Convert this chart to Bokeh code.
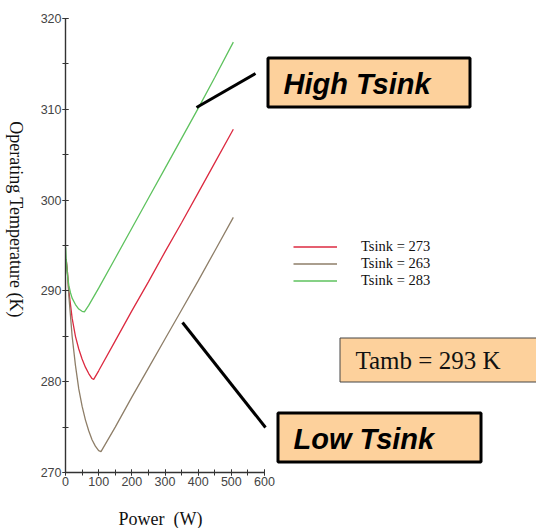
from bokeh.plotting import figure
from bokeh.models import (Range1d, SingleIntervalTicker, Label, BoxAnnotation,
                          Legend, LegendItem)
from bokeh.embed import file_html
from bokeh.resources import INLINE
import math

# ---------------- data ----------------
power_283 = [0.5, 2, 5, 10, 15, 20, 30, 40, 50, 57, 70, 100, 150, 200, 250, 300, 350, 400, 450, 506]
temp_283 = [294.8, 293.5, 292.0, 290.6, 289.8, 289.2, 288.5, 288.0, 287.75, 287.7, 288.4, 290.3, 293.6,
            296.9, 300.2, 303.5, 306.8, 310.1, 313.5, 317.4]

power_273 = [2, 6, 10, 20, 30, 40, 50, 60, 70, 80, 85, 100, 150, 200, 250, 300, 350, 400, 450, 506]
temp_273 = [293.5, 292.0, 290.0, 287.0, 285.0, 283.6, 282.5, 281.6, 280.9, 280.35, 280.25, 281.2, 284.5,
            287.8, 291.0, 294.3, 297.5, 300.8, 304.1, 307.8]

power_263 = [2, 6, 10, 20, 30, 40, 50, 60, 70, 80, 90, 100, 107, 150, 200, 250, 300, 350, 400, 450, 506]
temp_263 = [293.5, 292.0, 289.5, 285.0, 281.8, 279.2, 277.3, 275.8, 274.6, 273.6, 272.9, 272.4, 272.3,
            275.0, 278.3, 281.5, 284.7, 287.9, 291.1, 294.4, 298.1]

series_labels = ["Tsink = 273", "Tsink = 263", "Tsink = 283"]
x_title = "Power\u00a0\u00a0(W)"
y_title = "Operating Temperature (K)"

# ---------------- layout geometry ----------------
W, H = 536, 528
PX_PER_W = 199 / 600.0
PX_PER_K = 454 / 50.0


def X(px):  # picture pixel -> data x
    return (px - 65) / PX_PER_W


def Y(py):  # picture pixel -> data y
    return 270 + (472 - py) / PX_PER_K


p = figure(width=W, height=H, x_range=Range1d(X(0), X(W)), y_range=Range1d(Y(H), Y(0)),
           output_backend="svg", toolbar_location=None,
           min_border_left=0, min_border_right=0, min_border_top=0, min_border_bottom=0)
p.outline_line_color = None
p.grid.visible = False

p.xaxis.fixed_location = 270
p.yaxis.fixed_location = 0
for ax, interval, bounds in ((p.xaxis, 100, (0, 600)), (p.yaxis, 10, (270, 320))):
    ax.ticker = SingleIntervalTicker(interval=interval, num_minor_ticks=2)
    ax.bounds = bounds
    ax.axis_line_color = "#333333"
    ax.axis_line_width = 1.4
    ax.major_tick_line_color = "#333333"
    ax.minor_tick_line_color = "#333333"
    ax.major_tick_in = 3
    ax.major_tick_out = 3
    ax.minor_tick_in = 3
    ax.minor_tick_out = 3
    ax.major_label_text_font = "Liberation Sans"
    ax.major_label_text_font_size = "12.5px"
    ax.major_label_text_color = "#444444"
    ax.major_label_standoff = 1

r273 = p.line(power_273, temp_273, line_color="#DC2A40", line_width=1.3)
r263 = p.line(power_263, temp_263, line_color="#8E7E68", line_width=1.3)
r283 = p.line(power_283, temp_283, line_color="#5EC25E", line_width=1.3)

legend = Legend(items=[LegendItem(label=series_labels[0], renderers=[r273]),
                       LegendItem(label=series_labels[1], renderers=[r263]),
                       LegendItem(label=series_labels[2], renderers=[r283])],
                location=(293, H - 289), glyph_width=44, glyph_height=17, label_height=17,
                spacing=0, padding=0, margin=0, label_standoff=24,
                border_line_color=None, background_fill_alpha=0,
                label_text_font="Liberation Serif", label_text_font_size="14.5px",
                label_text_color="#111111")
p.add_layout(legend, "center")

# axis titles
p.add_layout(Label(x=X(15), y=Y(219), text=y_title, angle=-math.pi / 2,
                   text_align="center", text_baseline="middle",
                   text_font="Liberation Serif", text_font_size="18px", text_color="#111111"))
p.add_layout(Label(x=X(160), y=Y(518), text=x_title,
                   text_align="center", text_baseline="middle",
                   text_font="Liberation Serif", text_font_size="18px", text_color="#111111"))

PEACH = "#FDD19C"
# pointer lines
p.segment(x0=[X(196), X(182)], y0=[Y(107), Y(322)], x1=[X(255), X(265)], y1=[Y(73), Y(427)],
          line_color="black", line_width=3)

# boxes
p.add_layout(BoxAnnotation(left=X(267.5), right=X(469.5), top=Y(57.5), bottom=Y(106.5),
                           fill_color=PEACH, fill_alpha=1, line_color="black", line_alpha=1,
                           line_width=3))
p.add_layout(BoxAnnotation(left=X(339.5), right=X(545), top=Y(337.5), bottom=Y(381.5),
                           fill_color=PEACH, fill_alpha=1, line_color="#444444", line_alpha=1,
                           line_width=1))
p.add_layout(BoxAnnotation(left=X(277.5), right=X(480.5), top=Y(412.5), bottom=Y(461.5),
                           fill_color=PEACH, fill_alpha=1, line_color="black", line_alpha=1,
                           line_width=3))

p.add_layout(Label(x=X(283), y=Y(83), text="High Tsink", text_align="left", text_baseline="middle",
                   text_font="Liberation Sans", text_font_style="bold italic",
                   text_font_size="29px", text_color="black"))
p.add_layout(Label(x=X(293), y=Y(438), text="Low Tsink", text_align="left", text_baseline="middle",
                   text_font="Liberation Sans", text_font_style="bold italic",
                   text_font_size="29px", text_color="black"))
p.add_layout(Label(x=X(355), y=Y(360), text="Tamb = 293 K", text_align="left",
                   text_baseline="middle", text_font="Liberation Serif",
                   text_font_size="25px", text_color="#111111"))

open("out.html", "w").write(file_html(p, INLINE))
